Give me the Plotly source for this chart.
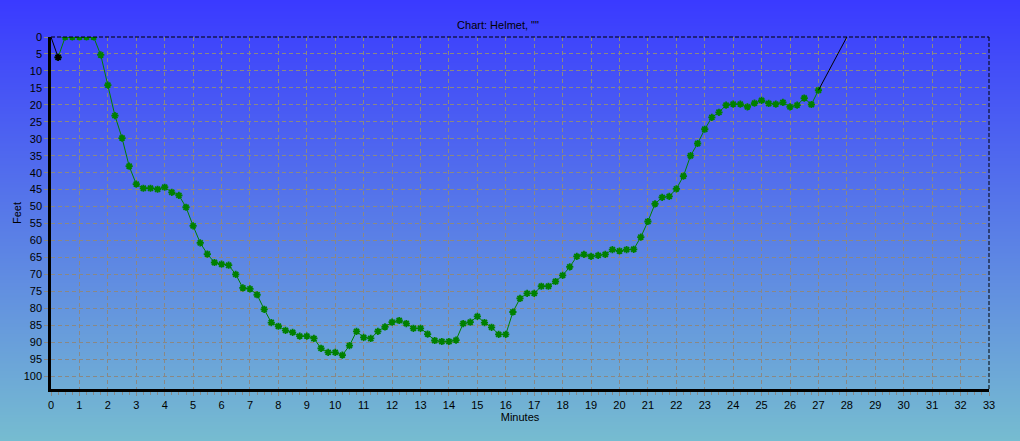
import base64
import struct
import zlib
import plotly.graph_objects as go

# ---- data ----
surface_minutes = [0.0, 0.25]
surface_feet = [0, 6.0]
ascent_minutes = [27.0, 28.0]
ascent_feet = [15.7, 0]

dive_minutes = [
    0.25, 0.5, 0.75, 1.0, 1.25, 1.5, 1.75, 2.0, 2.25, 2.5, 2.75, 3.0, 3.25, 3.5, 3.75,
    4.0, 4.25, 4.5, 4.75, 5.0, 5.25, 5.5, 5.75, 6.0, 6.25, 6.5, 6.75, 7.0, 7.25, 7.5,
    7.75, 8.0, 8.25, 8.5, 8.75, 9.0, 9.25, 9.5, 9.75, 10.0, 10.25, 10.5, 10.75, 11.0,
    11.25, 11.5, 11.75, 12.0, 12.25, 12.5, 12.75, 13.0, 13.25, 13.5, 13.75, 14.0, 14.25,
    14.5, 14.75, 15.0, 15.25, 15.5, 15.75, 16.0, 16.25, 16.5, 16.75, 17.0, 17.25, 17.5,
    17.75, 18.0, 18.25, 18.5, 18.75, 19.0, 19.25, 19.5, 19.75, 20.0, 20.25, 20.5, 20.75,
    21.0, 21.25, 21.5, 21.75, 22.0, 22.25, 22.5, 22.75, 23.0, 23.25, 23.5, 23.75, 24.0,
    24.25, 24.5, 24.75, 25.0, 25.25, 25.5, 25.75, 26.0, 26.25, 26.5, 26.75, 27.0,
]
dive_feet = [
    6.0, 0, 0, 0, 0, 0, 5.3, 14.2, 23.2, 29.8, 38.1, 43.4, 44.6, 44.6, 44.9,
    44.3, 45.8, 46.7, 50.2, 55.7, 60.7, 64.0, 66.5, 67.0, 67.3, 70.0, 74.0, 74.3, 76.0, 80.3,
    84.2, 85.3, 86.5, 87.1, 88.2, 88.2, 88.9, 91.8, 93.0, 93.0, 93.8, 91.0, 86.8, 88.6,
    88.9, 86.8, 85.5, 84.1, 83.6, 84.5, 85.9, 85.9, 87.6, 89.5, 89.8, 89.8, 89.4,
    84.5, 84.1, 82.4, 84.2, 85.6, 87.7, 87.7, 81.1, 77.1, 75.6, 75.6, 73.5, 73.5,
    72.1, 70.3, 67.8, 64.7, 64.1, 64.7, 64.4, 64.1, 62.7, 63.1, 62.7, 62.6, 59.0,
    54.4, 49.2, 47.3, 47.0, 44.8, 41.0, 35.0, 31.4, 27.2, 23.7, 22.2, 20.1, 19.8,
    19.8, 20.6, 19.5, 18.7, 19.6, 19.8, 19.3, 20.6, 20.1, 18.0, 19.9, 15.7,
]

x_ticks = list(range(0, 34))
y_ticks = list(range(0, 101, 5))

W, H = 1020, 441
ML, MR, MT, MB = 51, 31, 37, 52


# ---- vertical gradient background as a tiny PNG ----
def gradient_png(h, top, bottom):
    rows = b""
    for i in range(h):
        f = i / (h - 1)
        px = bytes(int(round(top[k] + (bottom[k] - top[k]) * f)) for k in range(3))
        rows += b"\x00" + px
    def chunk(t, d):
        c = struct.pack(">I", len(d)) + t + d
        return c + struct.pack(">I", zlib.crc32(t + d) & 0xffffffff)
    png = b"\x89PNG\r\n\x1a\n"
    png += chunk(b"IHDR", struct.pack(">IIBBBBB", 1, h, 8, 2, 0, 0, 0))
    png += chunk(b"IDAT", zlib.compress(rows))
    png += chunk(b"IEND", b"")
    return "data:image/png;base64," + base64.b64encode(png).decode()


bg = gradient_png(H, (58, 58, 255), (118, 188, 208))

pw = W - ML - MR
ph = H - MT - MB

fig = go.Figure()
fig.add_trace(go.Scatter(
    x=dive_minutes, y=dive_feet, mode="lines+markers",
    line=dict(color="#008000", width=1),
    marker=dict(symbol="asterisk", size=6, color="#008000",
                line=dict(color="#008000", width=1.8)),
    hoverinfo="skip", showlegend=False,
))
fig.add_trace(go.Scatter(
    x=surface_minutes, y=surface_feet, mode="lines",
    line=dict(color="black", width=1), hoverinfo="skip", showlegend=False,
))
fig.add_trace(go.Scatter(
    x=surface_minutes[1:], y=surface_feet[1:], mode="markers",
    marker=dict(symbol="asterisk", size=6, color="black",
                line=dict(color="black", width=1.8)),
    hoverinfo="skip", showlegend=False,
))
fig.add_trace(go.Scatter(
    x=ascent_minutes, y=ascent_feet, mode="lines",
    line=dict(color="black", width=1), hoverinfo="skip", showlegend=False,
))

font = "Liberation Sans, Arial, sans-serif"
grid = "#8a8884"

fig.update_layout(
    width=W, height=H,
    margin=dict(l=ML, r=MR, t=MT, b=MB, pad=0, autoexpand=False),
    paper_bgcolor="#3a3aff",
    plot_bgcolor="rgba(0,0,0,0)",
    font=dict(family=font, size=11, color="black"),
    title=dict(text='Chart: Helmet, ""', x=498 / W, xanchor="center",
               y=1 - 25 / H, yanchor="middle", font=dict(size=11, family=font)),
    images=[dict(source=bg, xref="paper", yref="paper",
                 x=-ML / pw, y=1 + MT / ph, sizex=W / pw, sizey=H / ph,
                 xanchor="left", yanchor="top", sizing="stretch", layer="below")],
    xaxis=dict(
        range=[0, 33], tickvals=x_ticks, ticktext=[str(v) for v in x_ticks],
        showgrid=True, gridcolor=grid, griddash="4px,3px", gridwidth=1,
        showline=True, linecolor="black", linewidth=2.5,
        ticks="outside", ticklen=4, tickcolor=grid,
        minor=dict(dtick=0.25, ticks="outside", ticklen=3, tickcolor=grid, showgrid=False),
        zeroline=False, tickfont=dict(size=11), automargin=False,
        title=dict(text="Minutes", standoff=2, font=dict(size=11)),
    ),
    yaxis=dict(
        range=[103.8, 0], tickvals=y_ticks, ticktext=[str(v) for v in y_ticks],
        showgrid=True, gridcolor=grid, griddash="4px,3px", gridwidth=1,
        showline=True, linecolor="black", linewidth=2.5,
        ticks="outside", ticklen=4, tickcolor=grid,
        zeroline=False, tickfont=dict(size=11), automargin=False,
        title=dict(text="Feet", standoff=0, font=dict(size=11)),
    ),
    shapes=[
        dict(type="line", xref="paper", yref="paper", x0=0, x1=1, y0=1, y1=1,
             line=dict(color="black", width=1, dash="4px,2px")),
        dict(type="line", xref="paper", yref="paper", x0=1, x1=1, y0=0, y1=1,
             line=dict(color="black", width=1, dash="4px,2px")),
    ],
)

fig.write_html(
    "out.html",
    config={"displayModeBar": False},
    post_script="document.body.style.margin='0';document.body.style.padding='0';"
                "document.body.style.overflow='hidden';",
)
